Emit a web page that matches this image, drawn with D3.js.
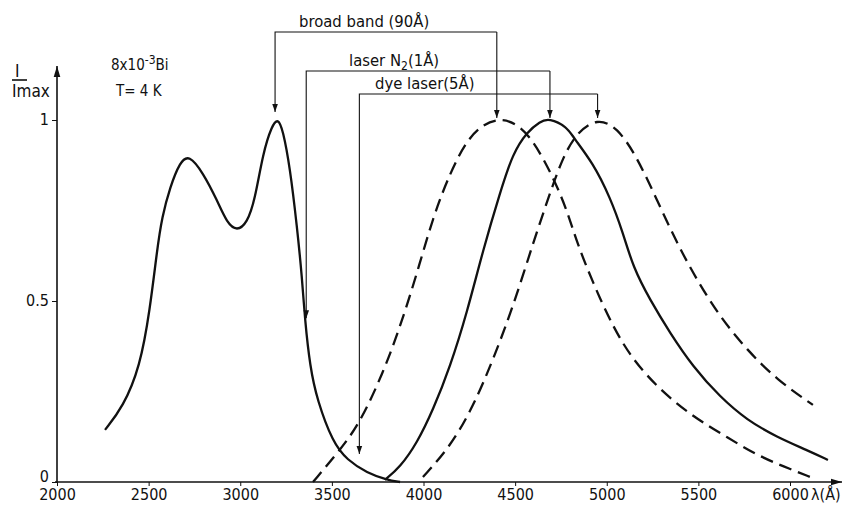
<!DOCTYPE html>
<html>
<head>
<meta charset="utf-8">
<script src="https://cdn.jsdelivr.net/npm/d3@7/dist/d3.min.js"></script>
<style>
  body { margin: 0; background: #fff; }
  svg { display: block; }
  .lbl { font-family: "DejaVu Sans Condensed", "DejaVu Sans", sans-serif; fill: #111; }
  .tick text { font-family: "Liberation Sans Narrow", "DejaVu Sans Condensed", sans-serif; font-size: 16px; fill: #111; }
</style>
</head>
<body>
<div id="chart"></div>
<script>
// wavelengths (A) and normalised intensities

// excitation spectrum (solid, left)
var excWl = [2262, 2360, 2453, 2507, 2546, 2573, 2617, 2671, 2720, 2797, 2873, 2928, 2982, 3037, 3080, 3124, 3173, 3206, 3233, 3271, 3310, 3337, 3353, 3381, 3419, 3506, 3583, 3692, 3801, 3872];
var excI  = [0.144, 0.207, 0.318, 0.475, 0.641, 0.732, 0.815, 0.884, 0.905, 0.854, 0.779, 0.715, 0.693, 0.715, 0.779, 0.909, 0.985, 1.005, 0.972, 0.870, 0.704, 0.566, 0.448, 0.318, 0.227, 0.108, 0.061, 0.025, 0.006, 0.0];

// emission, broad band excitation (dashed, peak 4400)
var bbWl = [3397, 3544, 3653, 3779, 3872, 3965, 4052, 4145, 4237, 4325, 4417, 4510, 4598, 4707, 4783, 4838, 4925, 5034, 5143, 5291, 5471, 5656, 5836, 6016, 6109];
var bbI  = [0.0, 0.088, 0.163, 0.301, 0.428, 0.577, 0.732, 0.854, 0.945, 0.988, 1.005, 0.99, 0.945, 0.843, 0.751, 0.660, 0.550, 0.428, 0.337, 0.254, 0.180, 0.124, 0.069, 0.033, 0.014];

// emission, N2 laser excitation (solid, peak 4690)
var n2Wl = [3790, 3872, 3965, 4052, 4145, 4237, 4325, 4417, 4488, 4565, 4636, 4685, 4783, 4816, 4925, 5018, 5089, 5143, 5236, 5345, 5471, 5618, 5765, 5929, 6093, 6207];
var n2I  = [0.006, 0.041, 0.108, 0.199, 0.318, 0.467, 0.641, 0.798, 0.909, 0.967, 0.996, 1.005, 0.981, 0.953, 0.881, 0.787, 0.688, 0.594, 0.503, 0.412, 0.318, 0.235, 0.171, 0.124, 0.088, 0.061];

// emission, dye laser excitation (dashed, peak 4950)
var dyeWl = [3997, 4145, 4270, 4379, 4488, 4598, 4690, 4761, 4838, 4947, 5056, 5165, 5274, 5383, 5492, 5618, 5765, 5929, 6125];
var dyeI  = [0.014, 0.097, 0.207, 0.337, 0.483, 0.660, 0.798, 0.898, 0.966, 1.005, 0.981, 0.898, 0.779, 0.660, 0.558, 0.456, 0.365, 0.282, 0.213];

// excitation -> emission arrows
var arrowLabels = ["broad band (90Å)", "laser N2(1Å)", "dye laser(5Å)"];
var arrowFrom = [3190, 3360, 3650];
var arrowFromI = [1.0, 0.43, 0.055];
var arrowTo = [4400, 4690, 4950];

var xTicks = [2000, 2500, 3000, 3500, 4000, 4500, 5000, 5500, 6000];
var yTicks = [0, 0.5, 1];

var svgWidth = 843, svgHeight = 506;

var svg = d3.select("#chart").append("svg")
  .attr("width", svgWidth)
  .attr("height", svgHeight);

var defs = svg.append("defs");
defs.append("marker")
  .attr("id", "head")
  .attr("viewBox", "0 0 10 10")
  .attr("refX", 10).attr("refY", 5)
  .attr("markerWidth", 8).attr("markerHeight", 8)
  .attr("markerUnits", "userSpaceOnUse")
  .attr("orient", "auto")
  .append("path").attr("d", "M0,1.5 L10,5 L0,8.5 Z").attr("fill", "#111");
defs.append("marker")
  .attr("id", "bighead")
  .attr("viewBox", "0 0 10 10")
  .attr("refX", 10).attr("refY", 5)
  .attr("markerWidth", 11).attr("markerHeight", 11)
  .attr("markerUnits", "userSpaceOnUse")
  .attr("orient", "auto")
  .append("path").attr("d", "M0,2 L10,5 L0,8 Z").attr("fill", "#111");

var x = d3.scaleLinear().domain([2000, 6000]).range([57, 790]);
var y = d3.scaleLinear().domain([0, 1]).range([482, 120]);

// axes
var xAxis = svg.append("g")
  .attr("transform", "translate(0," + y(0) + ")")
  .call(d3.axisBottom(x).tickValues(xTicks).tickSize(4).tickPadding(3).tickFormat(d3.format("d")));
xAxis.select(".domain").remove();
xAxis.selectAll(".tick line").attr("stroke", "#111");

var yAxis = svg.append("g")
  .attr("transform", "translate(" + x(2000) + ",0)")
  .call(d3.axisLeft(y).tickValues(yTicks).tickSize(5).tickPadding(3).tickFormat(d => d === 0.5 ? "0.5" : d3.format("d")(d)));
yAxis.select(".domain").remove();
yAxis.selectAll(".tick line").attr("stroke", "#111");
yAxis.selectAll(".tick text").attr("dy", "0.3em");
yAxis.selectAll(".tick").filter(d => d === 0).select("text").attr("dy", "-0.05em");

svg.append("line")
  .attr("x1", x(2000) - 2).attr("x2", 842)
  .attr("y1", y(0)).attr("y2", y(0))
  .attr("stroke", "#111").attr("stroke-width", 1.6)
  .attr("marker-end", "url(#bighead)");
svg.append("line")
  .attr("x1", x(2000)).attr("x2", x(2000))
  .attr("y1", y(0)).attr("y2", 66)
  .attr("stroke", "#111").attr("stroke-width", 1.6)
  .attr("marker-end", "url(#bighead)");

svg.append("text").attr("class", "lbl")
  .attr("x", 811).attr("y", 500)
  .attr("font-size", 16)
  .text("λ(Å)");

// y title: I / Imax
svg.append("text").attr("class", "lbl").attr("x", 15).attr("y", 77).attr("font-size", 17).text("I");
svg.append("line").attr("x1", 12).attr("x2", 27).attr("y1", 80).attr("y2", 80).attr("stroke", "#111").attr("stroke-width", 1.6);
svg.append("text").attr("class", "lbl").attr("x", 12).attr("y", 97).attr("font-size", 17).text("Imax");

var t1 = svg.append("text").attr("class", "lbl").attr("x", 111).attr("y", 70).attr("font-size", 15);
t1.append("tspan").text("8x10");
t1.append("tspan").attr("dy", -6).attr("font-size", 12).text("-3");
t1.append("tspan").attr("dy", 6).text("Bi");
svg.append("text").attr("class", "lbl").attr("x", 116).attr("y", 96).attr("font-size", 15).text("T= 4 K");

// curves
var line = d3.line()
  .x(d => x(d[0]))
  .y(d => y(d[1]))
  .curve(d3.curveBasis);

var series = [
  { wl: excWl, i: excI, dash: null },
  { wl: bbWl, i: bbI, dash: "13,7" },
  { wl: n2Wl, i: n2I, dash: null },
  { wl: dyeWl, i: dyeI, dash: "13,7" }
];

svg.selectAll("path.curve")
  .data(series)
  .enter()
  .append("path")
  .attr("class", "curve")
  .attr("d", s => line(d3.zip(s.wl, s.i)))
  .attr("fill", "none")
  .attr("stroke", "#111")
  .attr("stroke-width", 2.3)
  .attr("stroke-dasharray", s => s.dash);

// annotation arrows
var levels = [32, 71, 94];
var labelX = [299, 349, 375];
var ann = svg.selectAll("g.ann")
  .data(arrowLabels)
  .enter()
  .append("g")
  .attr("class", "ann");

ann.append("path")
  .attr("d", (d, k) => "M" + x(arrowTo[k]) + "," + levels[k] + " H" + x(arrowFrom[k]) + " V" + (y(arrowFromI[k]) - 8))
  .attr("fill", "none").attr("stroke", "#111").attr("stroke-width", 1.1)
  .attr("marker-end", "url(#head)");
ann.append("path")
  .attr("d", (d, k) => "M" + x(arrowTo[k]) + "," + levels[k] + " V" + (y(1) - 2))
  .attr("fill", "none").attr("stroke", "#111").attr("stroke-width", 1.1)
  .attr("marker-end", "url(#head)");

ann.each(function (d, k) {
  var t = d3.select(this).append("text").attr("class", "lbl")
    .attr("x", labelX[k]).attr("y", levels[k] - 5)
    .attr("font-size", 16.5);
  if (d.indexOf("N2") >= 0) {
    t.append("tspan").text("laser N");
    t.append("tspan").attr("dy", 4).attr("font-size", 12).text("2");
    t.append("tspan").attr("dy", -4).text("(1Å)");
  } else {
    t.text(d);
  }
});
</script>
</body>
</html>
